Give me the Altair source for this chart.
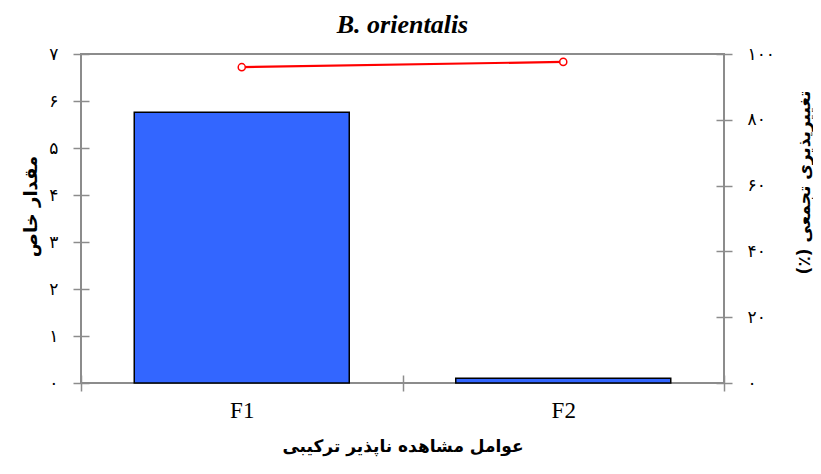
import json
import altair as alt
import pandas as pd

# ---- data ----
factors = ["F1", "F2"]
eigenvalues = [5.76, 0.10]
cumulative = [96.0, 97.6]

left_tick_values = [0, 1, 2, 3, 4, 5, 6, 7]
left_tick_labels = ["۰", "۱", "۲", "۳", "۴", "۵", "۶", "۷"]
right_tick_values = [0, 20, 40, 60, 80, 100]
right_tick_labels = ["۰", "۲۰", "۴۰", "۶۰", "۸۰", "۱۰۰"]

title_text = "B. orientalis"
x_title = "عوامل مشاهده ناپذیر ترکیبی"
left_title = "مقدار خاص"
right_title = "تغییرپذیری تجمعی (٪)"

df = pd.DataFrame({"factor": factors, "eigen": eigenvalues, "cum": cumulative})


def label_expr(values, labels):
    return (
        json.dumps(labels, ensure_ascii=False)
        + "[indexof("
        + json.dumps(values)
        + ", datum.value)]"
    )


def rtl(s):
    # right-to-left embedding so the parentheses stay at the end of the phrase
    return "\u202b" + s + "\u202c"


GREY = "#8c8c8c"
AR_FONT = "DejaVu Sans"

x_enc = alt.X(
    "factor:N",
    sort=factors,
    scale=alt.Scale(paddingInner=0, paddingOuter=0),
    axis=alt.Axis(
        title=rtl(x_title),
        labelAngle=0,
        domain=False,
        offset=-8,
        tickSize=16,
        tickBand="extent",
        tickColor=GREY,
        tickWidth=1.5,
        labelFont="Liberation Serif",
        labelFontSize=23,
        labelPadding=8,
        labelColor="black",
        titleFont=AR_FONT,
        titleFontSize=17,
        titleFontWeight="bold",
        titleColor="black",
        titlePadding=16,
    ),
)

bars = alt.Chart(df).mark_bar(
    size=215, color="#3366ff", stroke="black", strokeWidth=1.5
).encode(
    x=x_enc,
    y=alt.Y(
        "eigen:Q",
        scale=alt.Scale(domain=[0, 7], nice=False),
        axis=alt.Axis(
            orient="left",
            values=left_tick_values,
            labelExpr=label_expr(left_tick_values, left_tick_labels),
            domain=False,
            grid=False,
            offset=-8,
            tickSize=16,
            tickColor=GREY,
            tickWidth=1.5,
            labelPadding=15,
            labelFont=AR_FONT,
            labelFontSize=17,
            labelColor="black",
            title=rtl(left_title),
            titleFont=AR_FONT,
            titleFontSize=18,
            titleFontWeight="bold",
            titleColor="black",
            titleAngle=270,
            titleAlign="center",
            titleBaseline="middle",
            titleX=-58,
            titleY=152,
        ),
    ),
)

line = alt.Chart(df).mark_line(
    color="#ff0000",
    strokeWidth=2.2,
    point=alt.OverlayMarkDef(
        filled=False, fill="white", stroke="#ff0000", size=50, strokeWidth=1.5
    ),
).encode(
    x=x_enc,
    y=alt.Y(
        "cum:Q",
        scale=alt.Scale(domain=[0, 100], nice=False),
        axis=alt.Axis(
            orient="right",
            values=right_tick_values,
            labelExpr=label_expr(right_tick_values, right_tick_labels),
            domain=False,
            grid=False,
            offset=-8,
            tickSize=16,
            tickColor=GREY,
            tickWidth=1.5,
            labelPadding=15,
            labelFont=AR_FONT,
            labelFontSize=17,
            labelColor="black",
            title=rtl(right_title),
            titleFont=AR_FONT,
            titleFontSize=17,
            titleFontWeight="bold",
            titleColor="black",
            titleAngle=270,
            titleAlign="center",
            titleBaseline="middle",
            titleX=88,
            titleY=128,
        ),
    ),
)

chart = (
    alt.layer(bars, line)
    .resolve_scale(y="independent")
    .properties(
        width=643,
        height=329,
        autosize=alt.AutoSizeParams(type="none"),
        padding={"left": 73, "top": 46, "right": 89, "bottom": 83},
        title=alt.TitleParams(
            title_text,
            font="Liberation Serif",
            fontSize=26,
            fontStyle="italic",
            fontWeight="bold",
            color="black",
            anchor="middle",
            frame="group",
            offset=7,
        ),
    )
    .configure_view(stroke=GREY, strokeWidth=2)
)

chart.save("out.html", embed_options={"renderer": "svg", "actions": False})
